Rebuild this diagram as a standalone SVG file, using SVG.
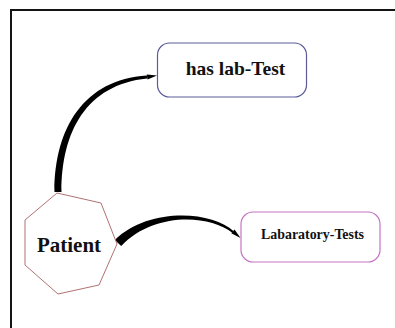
<svg xmlns="http://www.w3.org/2000/svg" width="395" height="328" viewBox="0 0 395 328">
  <style>
    .label { font-family: "Liberation Serif", "DejaVu Serif", "Times New Roman", serif; font-weight: bold; fill: #111; text-anchor: middle; }
    .frame { stroke: #141414; stroke-width: 2; fill: none; }
    .edge { fill: #000; stroke: none; }
  </style>
  <rect width="395" height="328" fill="#fff"/>
  <!-- frame: top and left rules -->
  <path class="frame" d="M11,328 V10 H395"/>

  <g id="connectors">
    <!-- Patient -> has lab-Test (tapered) -->
    <path class="edge" d="M54.5,192 C54.5,128 84.2,79.5 146.8,75.6 L147.2,78.4 C86,84.5 61.5,132 61.5,192 Z"/>
    <polygon class="edge" points="157,75.5 147.5,79.5 146.7,74.5"/>
    <!-- Patient -> Labaratory-Tests (tapered) -->
    <path class="edge" d="M114.8,239.9 C147.4,207.4 211.6,210.1 233.7,231.2 L232.3,232.8 C208.4,214 152.6,212.6 121.2,246.1 Z"/>
    <polygon class="edge" points="240.5,238 234.6,229.5 231.3,233.3"/>
  </g>

  <g id="node-patient">
    <polygon points="57,193 101,203 117,244 99,285 58,294 25,265 25,220" fill="#fff" stroke="#b07272" stroke-width="1"/>
    <text class="label" x="69" y="252" font-size="21" font-family="Liberation Serif, DejaVu Serif, serif">Patient</text>
  </g>

  <g id="node-has-lab-test">
    <rect x="157.5" y="43" width="149" height="54" rx="12" fill="#fff" stroke="#5c5c9c" stroke-width="1.2"/>
    <text class="label" x="235.5" y="75" font-size="19.5" font-family="Liberation Serif, DejaVu Serif, serif">has lab-Test</text>
  </g>

  <g id="node-labaratory-tests">
    <rect x="241" y="212" width="139" height="50" rx="12" fill="#fff" stroke="#c474c4" stroke-width="1.2"/>
    <text class="label" x="312.5" y="239" font-size="15.5" textLength="103" lengthAdjust="spacingAndGlyphs" font-family="Liberation Serif, DejaVu Serif, serif">Labaratory-Tests</text>
  </g>
</svg>
